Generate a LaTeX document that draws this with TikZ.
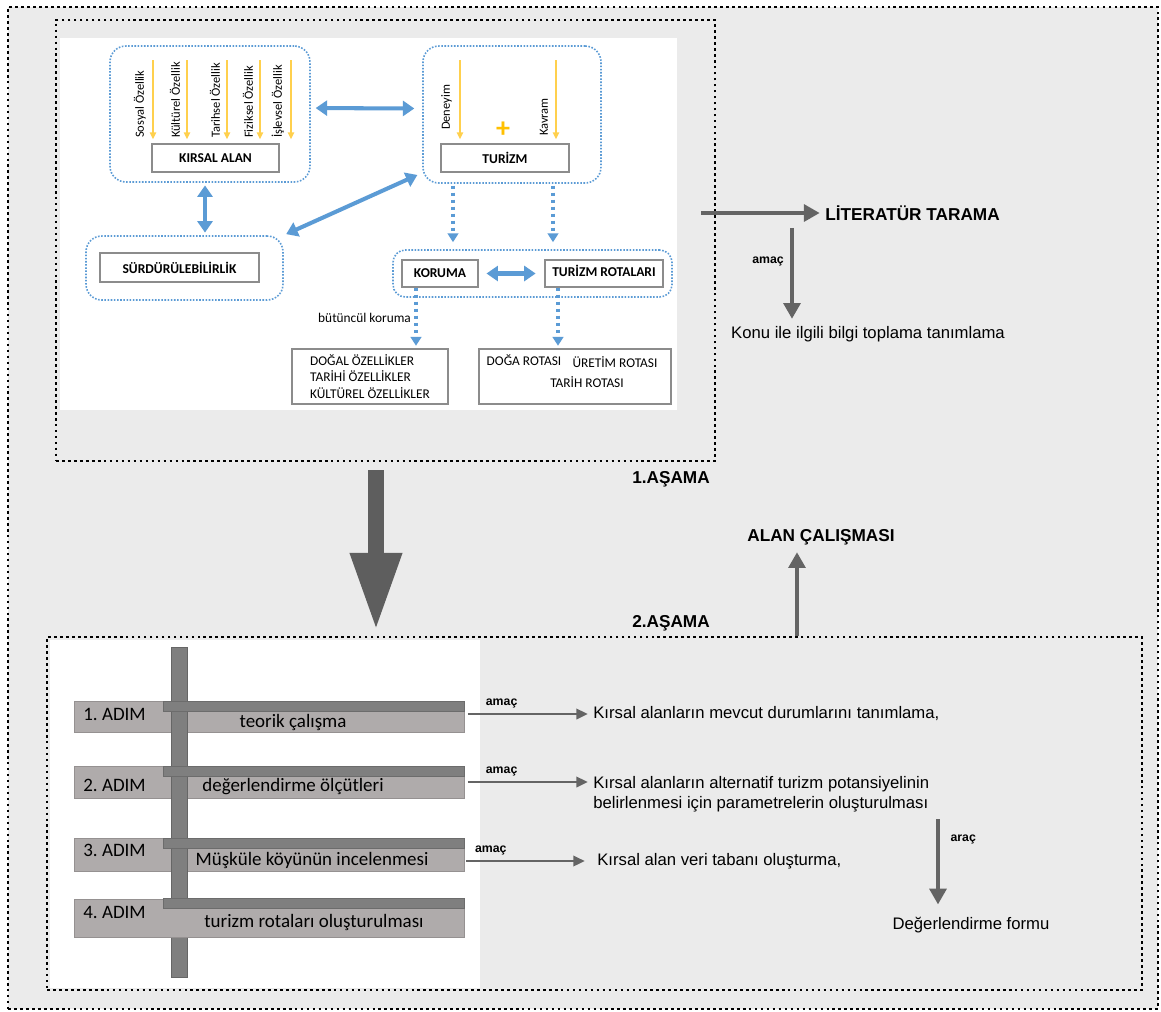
\documentclass[tikz,border=0pt]{standalone}
\usepackage{fontspec}
\setmainfont{Liberation Sans}
\newfontfamily\calfont{Carlito}
\usetikzlibrary{arrows.meta}

\definecolor{bgc}{HTML}{EBEBEB}
\definecolor{blu}{HTML}{5B9BD5}
\definecolor{ylw}{HTML}{FFD04D}
\definecolor{plusc}{HTML}{FFC000}
\definecolor{ark}{HTML}{646464}
\definecolor{bigc}{HTML}{5E5E5E}
\definecolor{barl}{HTML}{AFABAB}
\definecolor{bard}{HTML}{7F7F7F}

\tikzset{
  frame/.style={draw=black, line width=1.5pt, dash pattern=on 1.5pt off 1.9pt},
  grp/.style={draw=blu, line width=0.9pt, dash pattern=on 0.9pt off 0.9pt, rounded corners=9pt},
  wbox/.style={draw=black!45, fill=white, line width=0.7pt, inner sep=1pt},
  capt/.style={font=\calfont\bfseries\fontsize{7.7}{8}\selectfont},
  small/.style={font=\calfont\fontsize{7.6}{9.4}\selectfont},
  rotlab/.style={rotate=90, anchor=south west, inner sep=1pt, font=\calfont\fontsize{7.1}{8}\selectfont},
  ylwarr/.style={draw=ylw, line width=0.9pt, -{Triangle[width=3.6pt,length=4pt]}},
  bluarr/.style={draw=blu, line width=2.3pt, {Triangle[width=8.5pt,length=6.5pt]}-{Triangle[width=8.5pt,length=6.5pt]}},
  bludot/.style={draw=blu, line width=1.8pt, dash pattern=on 1.8pt off 2.2pt, -{Triangle[width=6pt,length=5pt]}},
  garr/.style={draw=ark, line width=1.2pt, -{Triangle[width=6pt,length=6.5pt]}},
  gthick/.style={draw=ark, line width=2.3pt, -{Triangle[width=9.5pt,length=9pt]}},
  bigarr/.style={draw=bigc, line width=9.1pt, -{Triangle[width=27.3pt,length=44.4pt]}},
  txt/.style={font=\fontsize{9.5}{11.4}\selectfont, inner sep=0pt},
  head/.style={font=\bfseries\fontsize{9.8}{12}\selectfont, inner sep=0pt},
  note/.style={font=\bfseries\fontsize{7}{8}\selectfont, inner sep=0pt},
  adim/.style={font=\calfont\fontsize{10.8}{12}\selectfont, inner sep=0pt},
  bar/.style={fill=barl, draw=barl!85!black, line width=0.4pt, minimum width=7.8cm, inner sep=0pt},
  strip/.style={fill=bard, draw=bard!85!black, line width=0.4pt, minimum width=6.02cm, minimum height=0.2cm, inner sep=0pt},
}

\begin{document}
\begin{tikzpicture}[x=0.02cm, y=-0.02cm]
\useasboundingbox (0,0) rectangle (1161,1012);
\fill[white] (0,0) rectangle (1161,1012);
\node[frame, fill=bgc, minimum width=23cm, minimum height=20.04cm] (outer) at (583,508) {};

% 1. asama
\node[frame, minimum width=13.18cm, minimum height=8.82cm] (tbox) at (385.5,240.5) {};
\node[fill=white, minimum width=12.34cm, minimum height=7.44cm, inner sep=0pt] (img) at (368.5,224) {};

\node[grp, minimum width=4cm, minimum height=2.72cm] (kg) at (210,114) {};
\node[wbox, capt, minimum width=2.54cm, minimum height=0.56cm] (kal) at (215.5,158) {KIRSAL ALAN};
\foreach \x/\lab in {153/Sosyal Özellik, 187/Kültürel Özellik, 227/Tarihsel Özellik, 260/Fiziksel Özellik, 291/İşlevsel Özellik}{
  \draw[ylwarr, shorten >=2.3pt] (\x,60) -- (kal.north -| \x,0);
  \node[rotlab] (l\x) at (\x-5,140) {\lab};
}

\node[grp, minimum width=3.56cm, minimum height=2.74cm] (tg) at (512,114.5) {};
\node[wbox, capt, minimum width=2.56cm, minimum height=0.56cm] (tur) at (505,158) {TURİZM};
\foreach \x/\b/\lab in {460/132/Deneyim, 556/138/Kavram}{
  \draw[ylwarr, shorten >=2.3pt] (\x,60) -- (tur.north -| \x,0);
  \node[rotlab] (l\x) at (\x-6,\b) {\lab};
}
\node[text=plusc, font=\calfont\bfseries\fontsize{16}{16}\selectfont, inner sep=0pt] (plus) at (503,130) {+};

\node[grp, minimum width=3.94cm, minimum height=1.28cm] (sg) at (184.5,268) {};
\node[wbox, capt, minimum width=3.18cm, minimum height=0.58cm] (sur) at (179.5,267.5) {SÜRDÜRÜLEBİLİRLİK};

\node[grp, rounded corners=7pt, minimum width=5.58cm, minimum height=0.94cm] (kg2) at (532.5,273.5) {};
\node[wbox, capt, minimum width=1.52cm, minimum height=0.54cm] (kor) at (440,273.5) {KORUMA};
\node[wbox, capt, minimum width=2.36cm, minimum height=0.54cm, text depth=3pt] (rot) at (604,273.5) {TURİZM ROTALARI};

\node[wbox, small, align=left, minimum width=3.12cm, minimum height=1.1cm] (dog) at (370,376.5) {DOĞAL ÖZELLİKLER\\TARİHİ ÖZELLİKLER\\KÜLTÜREL ÖZELLİKLER};
\node[wbox, minimum width=3.84cm, minimum height=1.1cm] (rtb) at (575,376.5) {};
\node[small, inner sep=0pt] (dr) at (524,360) {DOĞA ROTASI};
\node[small, inner sep=0pt] (ur) at (615,362) {ÜRETİM ROTASI};
\node[small, inner sep=0pt] (tr) at (587,382) {TARİH ROTASI};

\draw[bluarr, shorten <=2.8pt, shorten >=4.5pt] ([yshift=3.4pt]kg.east) -- ([yshift=3.4pt]tg.west);
\draw[bluarr, shorten <=1.5pt, shorten >=1.5pt] (kg.south -| 205,0) -- (sg.north -| 205,0);
\draw[bluarr, shorten <=3pt, shorten >=1.5pt] (tg.213) -- (sg.north east);
\draw[bludot, shorten <=1pt, shorten >=4pt] (tg.south -| 453,0) -- (kg2.north -| 453,0);
\draw[bludot, shorten <=1pt, shorten >=4pt] (tg.south -| 553,0) -- (kg2.north -| 553,0);
\draw[bluarr, shorten <=4.5pt, shorten >=5pt] (kor.east) -- (rot.west);
\draw[bludot, shorten >=1.5pt] (kor.south -| 416,0) -- (dog.north -| 416,0)
  node[midway, left=2pt, small, inner sep=0pt] (bk) {bütüncül koruma};
\draw[bludot, shorten >=1.5pt] (rot.south -| 558,0) -- (rtb.north -| 558,0);

% literatur
\node[head, anchor=west] (lit) at (825,213) {LİTERATÜR TARAMA};
\draw[gthick, shorten >=3pt] (tbox.east |- lit.west) ++(-15,0) -- (lit.west);
\node[txt] (konu) at (868,334) {Konu ile ilgili bilgi toplama tanımlama};
\draw[gthick, shorten <=4pt, shorten >=4pt] (lit.south -| 792,0) -- (konu.north -| 792,0)
  node[pos=0.39, left=3.5pt, note] {amaç};

\node[head] (as1) at (671,479) {1.AŞAMA};
\node[head] (as2) at (671,623) {2.AŞAMA};
\node[head] (alan) at (821,537) {ALAN ÇALIŞMASI};

% 2. asama
\node[frame, minimum width=21.9cm, minimum height=7.06cm] (bbox) at (594.5,813.5) {};
\node[fill=white, minimum width=8.6cm, minimum height=6.96cm, inner sep=0pt] (bw) at (265,814) {};

\draw[gthick, shorten >=4pt] (bbox.north -| 797,0) -- (alan.south -| 797,0);
\draw[bigarr, shorten <=4.5pt, shorten >=2.8pt] (tbox.south -| 376,0) -- (bbox.north -| 376,0);

\foreach \i/\y/\h in {1/716.5/0.62, 2/782/0.64, 3/854.5/0.66}
  \node[bar, minimum height=\h cm] (b\i) at (269,\y) {};
\node[fill=bard, draw=bard!80!black, line width=0.4pt, minimum width=0.32cm, minimum height=6.6cm, inner sep=0pt] (post) at (179,812) {};
\node[bar, minimum height=0.76cm] (b4) at (269,918) {};
\foreach \i/\y in {1/706, 2/771, 3/843, 4/903.5}
  \node[strip] (s\i) at (313.5,\y) {};

\foreach \i/\ya/\x/\yb/\t in {1/714/293/722/teorik çalışma, 2/785/293/787/değerlendirme ölçütleri, 3/850/312/860/Müşküle köyünün incelenmesi, 4/912/314/922/turizm rotaları oluşturulması}{
  \node[adim, anchor=west] (a\i) at (83,\ya) {\i.\ ADIM};
  \node[adim] (n\i) at (\x,\yb) {\t};
}

\node[txt, anchor=west] (t1) at (593,714) {Kırsal alanların mevcut durumlarını tanımlama,};
\node[txt, anchor=north west, align=left] (t2) at (593,776) {Kırsal alanların alternatif turizm potansiyelinin\\belirlenmesi için parametrelerin oluşturulması};
\node[txt, anchor=west] (t3) at (597,861) {Kırsal alan veri tabanı oluşturma,};
\node[txt] (deg) at (971,925) {Değerlendirme formu};

\draw[garr, shorten <=2pt, shorten >=3pt] (b1.east |- t1.west) -- (t1.west)
  node[pos=0.29, above=3pt, note] {amaç};
\draw[garr, shorten <=2pt, shorten >=3pt] (b2.east) -- (b2.east -| t2.west)
  node[pos=0.29, above=3pt, note] {amaç};
\draw[garr, shorten <=1pt, shorten >=7pt] (b3.east |- t3.west) -- (t3.west)
  node[pos=0.2, above=3pt, note] {amaç};
\draw[gthick, shorten <=4pt, shorten >=7pt] (t2.south -| 938,0) -- (deg.north -| 938,0)
  node[pos=0.26, right=6pt, note] {araç};
\end{tikzpicture}
\end{document}
